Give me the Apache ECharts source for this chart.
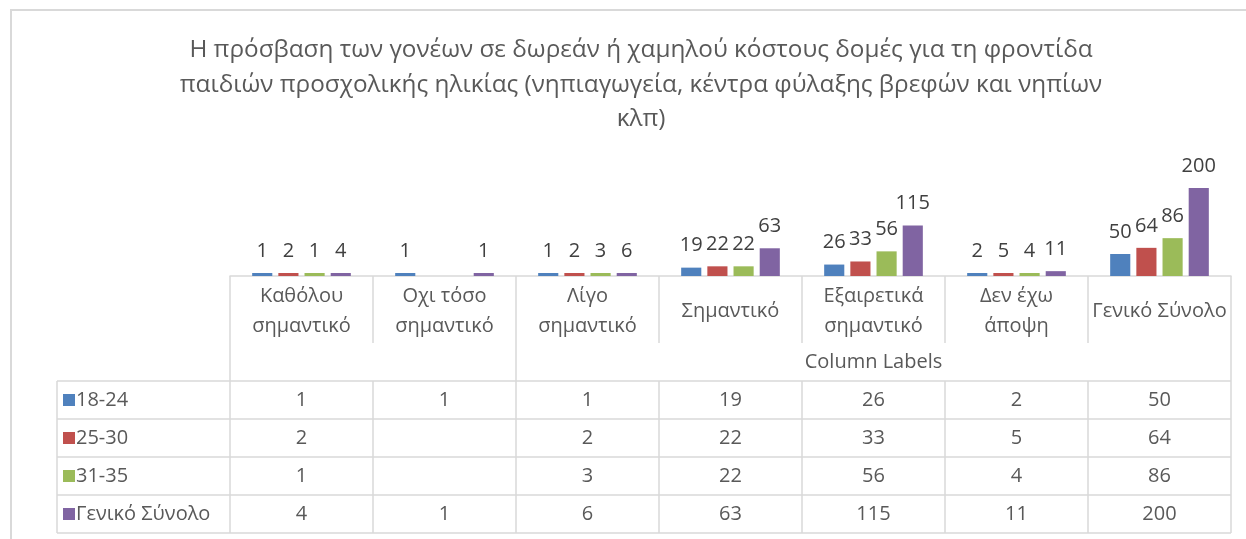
<!DOCTYPE html>
<html><head><meta charset="utf-8">
<script src="https://cdn.jsdelivr.net/npm/echarts@6/dist/echarts.min.js"></script>
<style>html,body{margin:0;padding:0;background:#fff}#c{width:1246px;height:539px}</style>
</head><body><div id="c"></div>
<script>
const titleText = 'Η πρόσβαση των γονέων σε δωρεάν ή χαμηλού κόστους δομές για τη φροντίδα\nπαιδιών προσχολικής ηλικίας (νηπιαγωγεία, κέντρα φύλαξης βρεφών και νηπίων\nκλπ)';
const categories = ['Καθόλου σημαντικό','Οχι τόσο σημαντικό','Λίγο σημαντικό','Σημαντικό','Εξαιρετικά σημαντικό','Δεν έχω άποψη','Γενικό Σύνολο'];
const categoryLabels = ['Καθόλου\nσημαντικό','Οχι τόσο\nσημαντικό','Λίγο\nσημαντικό','Σημαντικό','Εξαιρετικά\nσημαντικό','Δεν έχω\nάποψη','Γενικό Σύνολο'];
const seriesNames = ['18-24','25-30','31-35','Γενικό Σύνολο'];
const s1824 = [1,1,1,19,26,2,50];
const s2530 = [2,null,2,22,33,5,64];
const s3135 = [1,null,3,22,56,4,86];
const sTotal = [4,1,6,63,115,11,200];
const colors = ['#4f81bd','#c0504d','#9bbb59','#8064a2'];
const columnLabelsText = 'Column Labels';

const FONT = 'Open Sans';
const TXT = '#595959';
const LINE = '#d9d9d9';
const FS = 20;
const chart = echarts.init(document.getElementById('c'), null, {renderer:'canvas'});
const allSeries = [s1824, s2530, s3135, sTotal];
const series = allSeries.map((d,i)=>({
  name: seriesNames[i], type:'bar', data:d, barGap:'30%', barCategoryGap:'31%', barMinHeight:3,
  itemStyle:{color:colors[i]},
  label:{show:true, position:'top', distance:12, fontSize:FS, color:'#404040', fontFamily:FONT}
}));
chart.setOption({
  animation:false,
  title:{text:titleText, left:636, top:28, textAlign:'center',
    textStyle:{fontFamily:FONT, fontSize:24.3, fontWeight:'normal', color:TXT, lineHeight:34.5}},
  grid:{left:230, right:15, top:166, bottom:263, containLabel:false},
  xAxis:{type:'category', data:categoryLabels,
    axisLine:{lineStyle:{color:LINE, width:1.5}}, axisTick:{show:false},
    axisLabel:{interval:0, margin:35, verticalAlign:'middle', lineHeight:30, fontSize:FS, color:TXT, fontFamily:FONT}},
  yAxis:{type:'value', min:0, max:250, show:false, splitLine:{show:false}},
  legend:{show:false},
  series
});

const n = categories.length;
const cx = categories.map((c,i)=>chart.convertToPixel({xAxisIndex:0}, i));
const band = cx[1]-cx[0];
const edges = cx.map(x=>x-band/2); edges.push(cx[n-1]+band/2);
const yBase = chart.convertToPixel({yAxisIndex:0}, 0);
const headSplit = 343, rowTop = 381, rowH = 38, tableLeft = 57;
const tableBottom = rowTop + 4*rowH;
const g = [];
const line = (x1,y1,x2,y2)=>g.push({type:'line', shape:{x1,y1,x2,y2}, style:{stroke:LINE, lineWidth:1.5}, silent:true});
g.push({type:'rect', shape:{x:11,y:10,width:1300,height:600}, style:{fill:null, stroke:LINE, lineWidth:2}, silent:true});
edges.forEach((x,k)=>{
  if (k===0 || k===2 || k===n) line(x,yBase,x,tableBottom);
  else { line(x,yBase,x,headSplit); line(x,rowTop,x,tableBottom); }
});
for (let r=0;r<=4;r++) line(tableLeft, rowTop+r*rowH, edges[n], rowTop+r*rowH);
line(tableLeft, rowTop, tableLeft, tableBottom);
g.push({type:'text', x:(edges[2]+edges[n])/2, y:362, style:{text:columnLabelsText, fontSize:FS, fontFamily:FONT, fill:TXT, align:'center', verticalAlign:'middle'}, silent:true});
allSeries.forEach((d,i)=>{
  const yc = rowTop + i*rowH + rowH/2;
  g.push({type:'rect', shape:{x:63,y:yc-6,width:12,height:12}, style:{fill:colors[i]}, silent:true});
  g.push({type:'text', x:76, y:yc, style:{text:seriesNames[i], fontSize:FS, fontFamily:FONT, fill:TXT, align:'left', verticalAlign:'middle'}, silent:true});
  d.forEach((v,j)=>{
    if (v==null) return;
    g.push({type:'text', x:cx[j], y:yc, style:{text:String(v), fontSize:FS, fontFamily:FONT, fill:TXT, align:'center', verticalAlign:'middle'}, silent:true});
  });
});
chart.setOption({graphic:g});
</script></body></html>
